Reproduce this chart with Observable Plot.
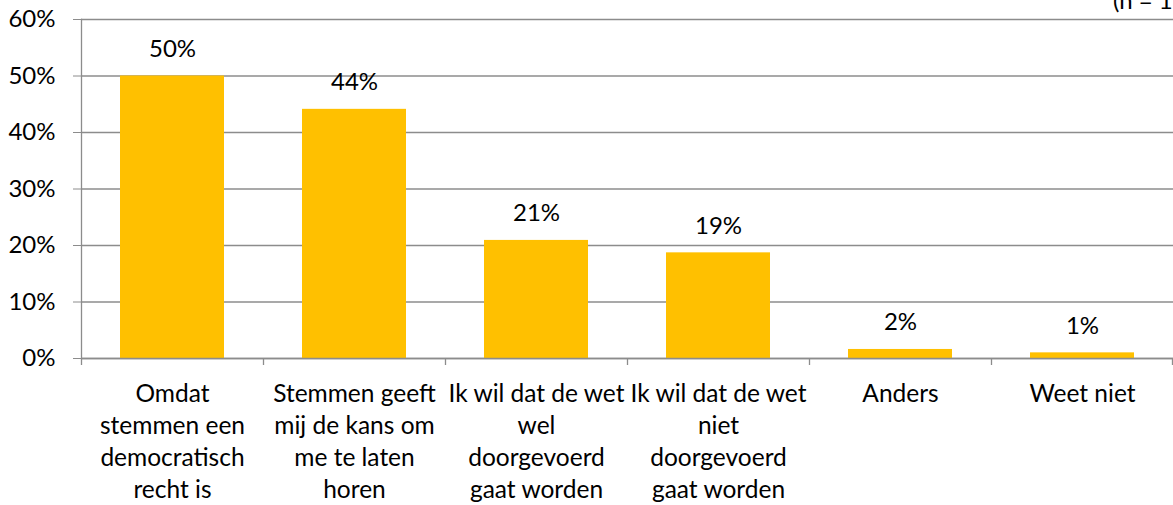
<!DOCTYPE html>
<html>
<head>
<meta charset="utf-8">
<script src="https://cdn.jsdelivr.net/npm/d3@7"></script>
<script src="https://cdn.jsdelivr.net/npm/@observablehq/plot@0.6"></script>
<style>
  html, body { margin: 0; padding: 0; background: #fff; overflow: hidden; }
  #wrap { position: relative; width: 1173px; height: 505px; }
  #note { position: absolute; left: 1113px; top: -15px; font: 24px Lato, sans-serif; color: #000; white-space: nowrap; }
</style>
</head>
<body>
<div id="wrap"><div id="note">(n = 1</div></div>
<script>
const categories = [
  "Omdat stemmen een democratisch recht is",
  "Stemmen geeft mij de kans om me te laten horen",
  "Ik wil dat de wet wel doorgevoerd gaat worden",
  "Ik wil dat de wet niet doorgevoerd gaat worden",
  "Anders",
  "Weet niet"
];
const tickLabels = [
  "Omdat\nstemmen een\ndemocratisch\nrecht is",
  "Stemmen geeft\nmij de kans om\nme te laten\nhoren",
  "Ik wil dat de wet\nwel\ndoorgevoerd\ngaat worden",
  "Ik wil dat de wet\nniet\ndoorgevoerd\ngaat worden",
  "Anders",
  "Weet niet"
];
const values = [50.0, 44.1, 20.9, 18.7, 1.6, 1.0];
const valueLabels = ["50%", "44%", "21%", "19%", "2%", "1%"];
const yTicks = [0, 10, 20, 30, 40, 50, 60];

const data = categories.map((c, i) => ({cat: c, value: values[i], label: valueLabels[i], tick: tickLabels[i]}));

const W = 1173, H = 505, ML = 81, MR = 0, MT = 19, MB = 147;
const step = (W - ML - MR) / categories.length;
const grey = "#8c8c8c";
const font = "Lato, sans-serif";

const chart = Plot.plot({
  width: W, height: H,
  marginLeft: ML, marginRight: MR, marginTop: MT, marginBottom: MB,
  style: {fontFamily: font, fontSize: "24px", color: "#000", background: "#fff"},
  x: {domain: categories, paddingInner: 0.43, paddingOuter: 0.215, label: null},
  y: {domain: [0, 60], label: null},
  marks: [
    Plot.gridY(yTicks, {stroke: grey, strokeOpacity: 1, strokeWidth: 1.3}),
    Plot.barY(data, {x: "cat", y: "value", fill: "#FFC000"}),
    Plot.ruleY([0], {stroke: grey, strokeWidth: 1.3}),
    Plot.frame({anchor: "left", stroke: grey, strokeWidth: 1.3}),
    Plot.ruleX(data, {x: "cat", y1: 0, y2: 0, dx: -step / 2, insetBottom: -7, stroke: grey, strokeWidth: 1.3}),
    Plot.ruleX(data.slice(-1), {x: "cat", y1: 0, y2: 0, dx: step / 2 - 1, insetBottom: -7, stroke: grey, strokeWidth: 1.3}),
    Plot.axisY({ticks: yTicks, tickFormat: d => d + "%", tickSize: 8, tickPadding: 18, stroke: grey, fontSize: 24, fill: "#000"}),
    Plot.axisX({tickSize: 0, tickPadding: 21, tickFormat: d => data.find(e => e.cat === d).tick, fontSize: 24.5, lineHeight: 1.3, fill: "#000"}),
    Plot.text(data, {x: "cat", y: "value", text: "label", dy: -19, lineAnchor: "bottom", fontSize: 24, fill: "#000"})
  ]
});
document.getElementById("wrap").prepend(chart);
</script>
</body>
</html>
